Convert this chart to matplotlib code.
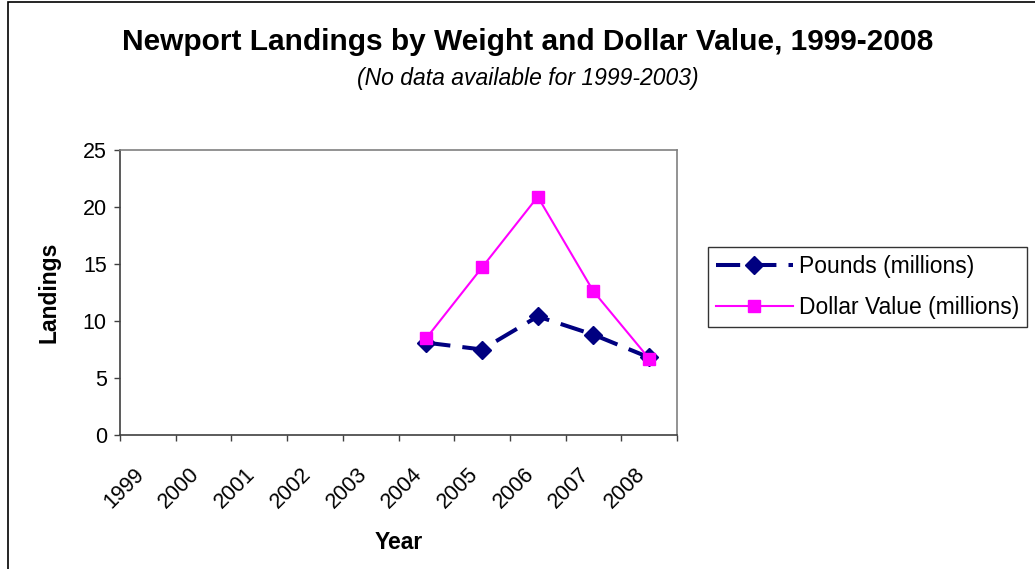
import matplotlib
matplotlib.use("Agg")
import matplotlib.pyplot as plt
import matplotlib.transforms as mtransforms
from matplotlib.patches import Rectangle
import numpy as np

plt.rcParams['font.family'] = ['Liberation Sans', 'DejaVu Sans']

years = ['1999', '2000', '2001', '2002', '2003', '2004', '2005', '2006', '2007', '2008']
data_years = ['2004', '2005', '2006', '2007', '2008']
pounds = [8.1, 7.5, 10.4, 8.8, 6.8]
dollars = [8.5, 14.7, 20.9, 12.6, 6.7]

W, H = 1035, 569
fig = plt.figure(figsize=(W / 100, H / 100), dpi=100)
ax = fig.add_axes([120 / W, 1 - 435 / H, (677 - 120) / W, (435 - 150) / H])

xpos = [years.index(y) for y in data_years]
ax.plot(xpos, pounds, color='#000080', lw=2.9, linestyle=(0, (6, 3)),
        marker='D', ms=9.5, markeredgecolor='#000080', label='Pounds (millions)', zorder=3)
ax.plot(xpos, dollars, color='#FF00FF', lw=1.5,
        marker='s', ms=8.5, markeredgecolor='#FF00FF', label='Dollar Value (millions)', zorder=4)

ax.set_xlim(-0.5, len(years) - 0.5)
ax.set_ylim(0, 25)
ax.set_yticks(np.arange(0, 26, 5))

# tick marks on category boundaries, labels centred on categories
ax.set_xticks(np.arange(-0.5, len(years), 1.0))
ax.set_xticklabels([])
ax.set_xticks(np.arange(len(years)), minor=True)
ax.set_xticklabels(years, minor=True, rotation=45, ha='right', va='center',
                   rotation_mode='anchor')
ax.tick_params(axis='x', which='minor', length=0, pad=26, labelsize=15.5)
ax.tick_params(axis='x', which='major', length=4.5, width=1, color='#404040', direction='out')
ax.tick_params(axis='y', length=4.5, width=1, color='#404040', direction='out', labelsize=15.5, pad=5)

shift = mtransforms.ScaledTranslation(-7 / 100, 0, fig.dpi_scale_trans)
for lbl in ax.get_xticklabels(minor=True):
    lbl.set_transform(lbl.get_transform() + shift)

for side in ('top', 'right'):
    ax.spines[side].set_color('#808080')
    ax.spines[side].set_linewidth(1.2)
for side in ('left', 'bottom'):
    ax.spines[side].set_color('#404040')
    ax.spines[side].set_linewidth(1.2)

ax.set_ylabel('Landings', fontsize=16.5, fontweight='bold', labelpad=16)
ax.set_xlabel('Year', fontsize=16.5, fontweight='bold', labelpad=13)

fig.text(528 / W, 1 - 42 / H, 'Newport Landings by Weight and Dollar Value, 1999-2008',
         ha='center', va='center', fontsize=21.5, fontweight='bold')
fig.text(528 / W, 1 - 78 / H, '(No data available for 1999-2003)',
         ha='center', va='center', fontsize=16.5, style='italic')

leg = fig.legend(loc='upper left', bbox_to_anchor=(708 / W, 1 - 247 / H),
                 fontsize=16.5, frameon=True, fancybox=False, edgecolor='#000000',
                 handlelength=3.35, handletextpad=0.26, borderpad=0.35, labelspacing=0.8,
                 borderaxespad=0)
leg.get_frame().set_linewidth(1.0)

fig.patches.append(Rectangle((8 / W, -0.1), 2, 1.1 - 2 / H, transform=fig.transFigure,
                             fill=False, edgecolor='black', linewidth=1.2))

fig.savefig('out.png', dpi=100)
